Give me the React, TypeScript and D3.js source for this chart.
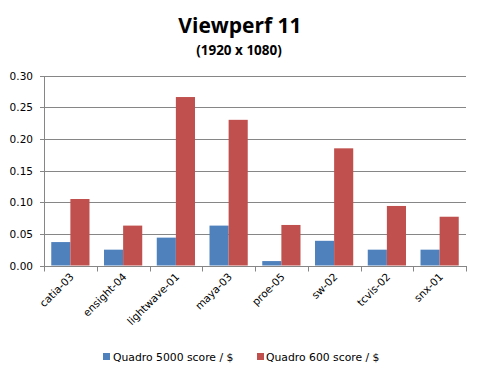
import React from "react";
import * as d3 from "d3";

const categories = ["catia-03", "ensight-04", "lightwave-01", "maya-03", "proe-05", "sw-02", "tcvis-02", "snx-01"];
const seriesNames = ["Quadro 5000 score / $", "Quadro 600 score / $"];
const quadro5000 = [0.037, 0.025, 0.044, 0.063, 0.007, 0.039, 0.025, 0.025];
const quadro600 = [0.105, 0.063, 0.266, 0.230, 0.064, 0.185, 0.094, 0.077];
const yTicks = [0, 0.05, 0.1, 0.15, 0.2, 0.25, 0.3];
const colors = ["#4F81BD", "#C0504D"];

export default function App() {
  const W = 480, H = 376;
  const left = 44, right = 466, top = 75.5, bottom = 265.5;
  const x = d3.scaleBand<string>().domain(categories).range([left, right]).paddingInner(0).paddingOuter(0);
  const y = d3.scaleLinear().domain([0, 0.3]).range([bottom, top]);
  const inner = d3.scaleBand<number>().domain([0, 1]).range([0, x.bandwidth()]).paddingInner(0).paddingOuter(0.38);
  const series = [quadro5000, quadro600];
  const font = "'DejaVu Sans', Verdana, sans-serif";
  const titleFont = "'Open Sans', 'Noto Sans', sans-serif";
  const boundaries = categories.map((c) => x(c)!).concat([right]);
  return (
    <svg width={W} height={H} style={{ position: "absolute", left: 0, top: 0, background: "#fff" }}>
      <rect x={0} y={0} width={W} height={H} fill="#fff" />
      <text x={240} y={33} textAnchor="middle" fontFamily={titleFont} fontWeight="bold" fontSize={21} fill="#000">Viewperf 11</text>
      <text x={239} y={55} textAnchor="middle" fontFamily={titleFont} fontWeight="bold" fontSize={13.5} fill="#000">(1920 x 1080)</text>
      {yTicks.map((t) => (
        <g key={t}>
          <line x1={left - 4} x2={right} y1={Math.round(y(t)) + 0.5} y2={Math.round(y(t)) + 0.5} stroke="#868686" strokeWidth={1} />
          <text x={33} y={y(t) + 4} textAnchor="end" fontFamily={font} fontSize={10.5} fill="#000">{t.toFixed(2)}</text>
        </g>
      ))}
      <line x1={left + 0.5} x2={left + 0.5} y1={Math.round(top) + 0.5} y2={Math.round(bottom) + 0.5} stroke="#868686" />
      {boundaries.map((b, i) => (
        <line key={i} x1={Math.round(b) + 0.5} x2={Math.round(b) + 0.5} y1={Math.round(bottom)} y2={Math.round(bottom) + 5.5} stroke="#868686" />
      ))}
      {series.map((vals, si) =>
        vals.map((v, i) => (
          <rect key={si + "-" + i} x={x(categories[i])! + inner(si)!} y={y(v)} width={inner.bandwidth()} height={bottom - y(v)} fill={colors[si]} />
        ))
      )}
      {categories.map((c) => {
        const cx = x(c)! + x.bandwidth() / 2 + 4;
        const cy = bottom + 12;
        return (
          <text key={c} x={cx} y={cy} transform={`rotate(-45 ${cx} ${cy})`} textAnchor="end" fontFamily={font} fontSize={10.5} fill="#000">{c}</text>
        );
      })}
      <rect x={103} y={353} width={7} height={7} fill={colors[0]} />
      <text x={113} y={361} fontFamily={font} fontSize={10.8} fill="#000">{seriesNames[0]}</text>
      <rect x={257} y={353} width={7} height={7} fill={colors[1]} />
      <text x={266} y={361} fontFamily={font} fontSize={10.8} fill="#000">{seriesNames[1]}</text>
    </svg>
  );
}
